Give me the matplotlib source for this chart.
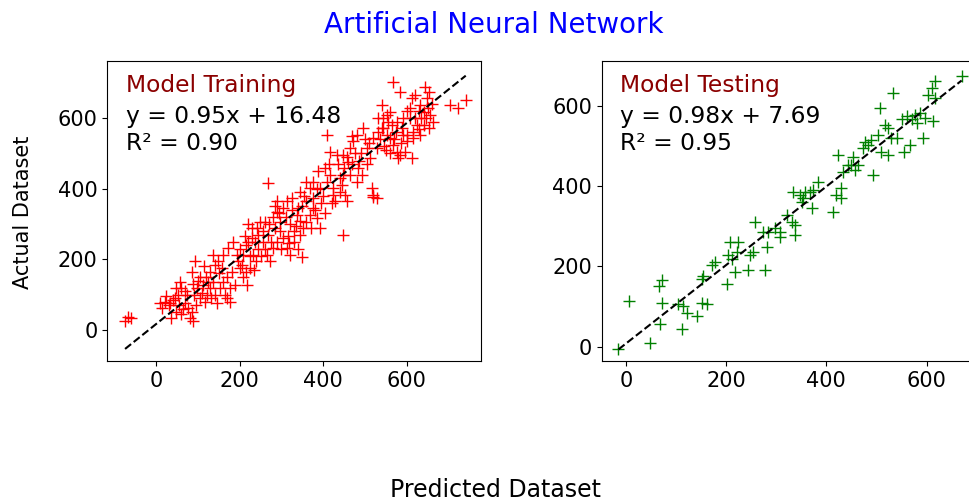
import numpy as np
import matplotlib
matplotlib.use("Agg")
import matplotlib.pyplot as plt

# training set: predicted (x) vs actual (y)
train_pred = [
    -74, -60, -66,
    10, 14, 22, 30, 33, 37, 45, 49, 53, 57, 61, 55, 65, 69, 73, 77, 81, 85, 89, 40, 25, 60, 70, 48,
    85, 93, 97, 105, 113, 121, 129, 137, 145, 129, 141, 153, 161, 165, 169, 177, 181, 189, 193, 185,
    173, 161, 149, 137, 100, 110, 120, 132, 95, 150, 158, 140, 115, 125, 105, 170, 178, 88, 92, 118,
    197, 201, 209, 217, 221, 225, 229, 233, 237, 241, 249, 257, 261, 265, 269, 273, 209, 215, 200, 225,
    240, 245, 252, 230, 205, 245, 235, 255, 215, 260, 220, 212,
    268, 281, 285, 289, 297, 305, 313, 321, 329, 337, 344, 305, 313, 325, 340, 289, 281, 297, 320, 330,
    300, 275, 290, 315, 335, 345, 310, 325, 295, 270, 285, 318, 349, 340,
    352, 360, 368, 376, 384, 392, 360, 376, 368, 388, 404, 416, 424, 376, 392, 408, 416, 432, 448, 400,
    410, 385, 360, 350, 395, 415, 420, 405, 370, 380, 355, 345,
    424, 428, 440, 448, 452, 456, 460, 464, 472, 480, 484, 492, 496, 504, 512, 516, 520, 528, 528, 440,
    436, 450, 470, 475, 490, 500, 510, 485, 465, 445, 448, 519, 505, 480, 458, 468,
    540, 544, 552, 560, 568, 576, 584, 544, 552, 560, 568, 576, 584, 588, 592, 600, 596, 580, 612, 540,
    530, 550, 565, 575, 590, 555, 535, 600, 570, 585, 545, 560, 520, 530,
    600, 608, 612, 620, 632, 640, 644, 648, 652, 656, 663, 652, 632, 616, 624, 608, 640, 650, 620, 630,
    660, 628, 645, 615, 635,
    703, 723, 741,
]
train_actual = [
    24, 33, 38,
    76, 61, 80, 70, 76, 33, 90, 52, 99, 137, 118, 70, 60, 76, 99, 61, 33, 52, 24, 85, 95, 45, 110, 120,
    165, 194, 118, 151, 127, 99, 118, 137, 76, 165, 184, 118, 137, 99, 90, 80, 165, 127, 212, 250,
    231, 212, 194, 212, 140, 105, 150, 90, 70, 160, 175, 100, 180, 135, 90, 150, 120, 130, 100, 80,
    194, 175, 151, 127, 250, 175, 288, 212, 250, 288, 307, 250, 307, 212, 269, 194, 212, 240, 230, 210,
    195, 230, 210, 260, 185, 270, 170, 280, 165, 230, 300, 265,
    416, 231, 288, 335, 307, 260, 231, 212, 250, 326, 269, 345, 364, 373, 345, 364, 320, 280, 300, 280,
    230, 250, 250, 265, 295, 310, 320, 340, 330, 300, 350, 245, 208, 230,
    288, 307, 326, 345, 316, 288, 364, 373, 401, 449, 458, 439, 401, 420, 401, 552, 505, 496, 496, 380,
    420, 400, 420, 350, 360, 470, 360, 330, 290, 340, 380, 390,
    382, 364, 430, 439, 382, 364, 477, 515, 534, 552, 458, 439, 571, 515, 486, 401, 382, 373, 515, 390,
    470, 460, 470, 500, 500, 540, 530, 480, 440, 410, 269, 378, 470, 420, 490, 550,
    571, 571, 552, 543, 524, 505, 496, 600, 609, 618, 703, 590, 675, 571, 552, 534, 505, 486, 486, 637,
    560, 510, 580, 560, 600, 590, 540, 620, 540, 530, 520, 500, 545, 600,
    552, 628, 656, 666, 637, 618, 689, 656, 675, 609, 590, 571, 552, 562, 581, 600, 580, 630, 600, 620,
    640, 570, 600, 545, 600,
    637, 628, 652,
]

# testing set
test_pred = [
    -15, 5, 48, 65, 72, 71, 68, 111, 114, 104, 121, 141, 151, 161, 151, 154, 171, 178, 201, 207, 224,
    204, 211, 218, 221, 244, 247, 254, 257, 277, 281, 274, 284, 297, 307, 307, 321, 331, 337, 337,
    334, 347, 354, 357, 367, 374, 351, 371, 384, 414, 420, 430, 430, 424, 434, 444, 450, 454, 457, 464,
    494, 474, 477, 484, 490, 504, 510, 517, 524, 524, 507, 534, 530, 540, 554, 567, 593,
    550, 560, 570, 577, 587, 597, 613, 580, 603, 610, 617, 617, 670,
]
test_actual = [
    -5, 115, 10, 152, 165, 110, 56, 44, 102, 106, 85, 77, 110, 106, 169, 177, 203, 211, 156, 261, 261,
    228, 218, 186, 236, 190, 228, 236, 311, 190, 249, 286, 286, 295, 286, 274, 328, 311, 303, 278,
    387, 378, 370, 387, 387, 391, 361, 345, 412, 336, 378, 370, 395, 479, 437, 454, 454, 474, 441, 454,
    428, 495, 512, 504, 516, 529, 487, 554, 546, 479, 596, 633, 520, 520, 487, 504, 520,
    567, 575, 567, 579, 583, 571, 562, 558, 629, 646, 663, 621, 675,
]

panels = [
    ("Model Training", train_pred, train_actual, "red", 0.95, 16.48, 0.90),
    ("Model Testing", test_pred, test_actual, "green", 0.98, 7.69, 0.95),
]
xlims = [(-116.5, 777.5), (-48.5, 697.5)]
ylims = [(-88, 762), (-36, 713)]

fig = plt.figure(figsize=(9.7, 5.03), dpi=100)
W, H = 970, 503
axes = [
    fig.add_axes([107.3 / W, 142 / H, 373.7 / W, 300 / H]),
    fig.add_axes([601.7 / W, 142 / H, 373.7 / W, 300 / H]),
]

for ax, (name, xp, ya, col, slope, icpt, r2), xl, yl in zip(axes, panels, xlims, ylims):
    ax.plot(xp, ya, "+", color=col, markersize=8, markeredgewidth=1.0)
    # fitted line over the predicted range
    xs = np.array([min(xp), max(xp)])
    ax.plot(xs, slope * xs + icpt, "k--", linewidth=1.5)
    ax.set_xlim(*xl)
    ax.set_ylim(*yl)
    ax.set_xticks([0, 200, 400, 600])
    ax.set_yticks([0, 200, 400, 600])
    ax.tick_params(labelsize=15)
    ax.text(0.05, 0.898, name, transform=ax.transAxes, color="darkred", fontsize=16.8, va="baseline")
    ax.text(0.05, 0.793, f"y = {slope:.2f}x + {icpt:.2f}", transform=ax.transAxes,
            fontsize=16.8, va="baseline")
    ax.text(0.05, 0.703, f"R² = {r2:.2f}", transform=ax.transAxes, fontsize=16.8, va="baseline")

fig.text(494 / W, 1 - 25 / H, "Artificial Neural Network", color="blue", fontsize=20,
         ha="center", va="center")
fig.text(496 / W, 1 - 490 / H, "Predicted Dataset", fontsize=17, ha="center", va="center")
fig.text(23 / W, 1 - 212 / H, "Actual Dataset", fontsize=15, rotation=90, ha="center", va="center")

fig.savefig("out.png", dpi=100)
